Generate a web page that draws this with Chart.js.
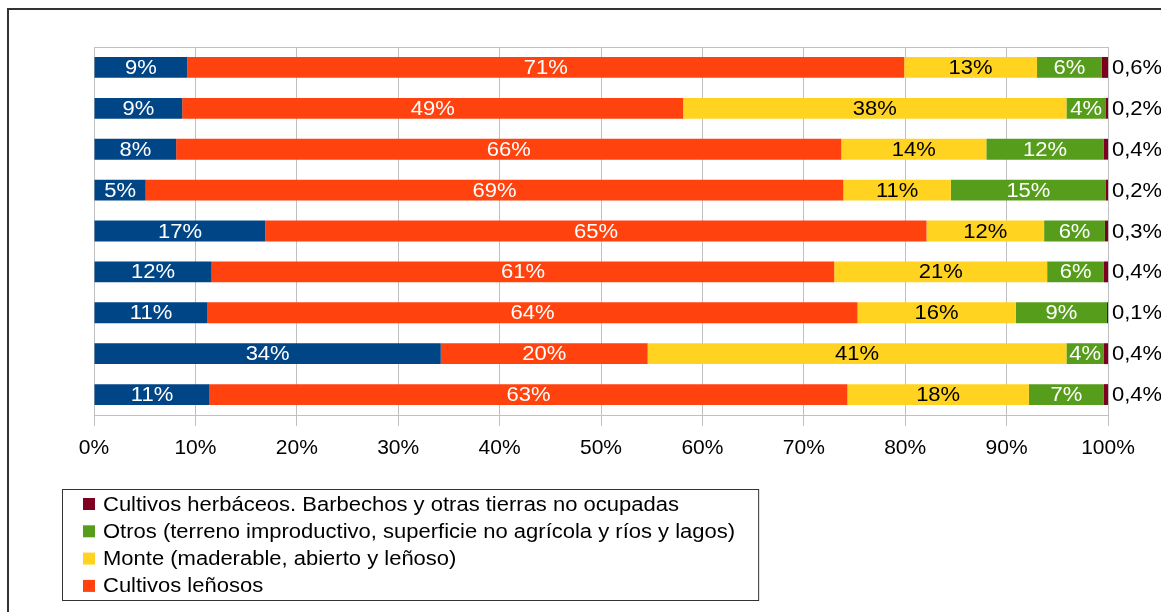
<!DOCTYPE html>
<html>
<style>
body {
    margin: 0;
    background: #fff;
}
#wrap {
    width: 1161px;
    height: 612px;
    position: relative;
}
</style>
  <head>
    <meta charset="utf-8">
    <title>Superficie por usos</title>
  </head>
  <body>
    <div id="wrap"><canvas id="myChart"></canvas></div>

    <script src="https://cdn.jsdelivr.net/npm/chart.js@4/dist/chart.umd.min.js"></script>
    <script type="text/javascript">
      // filas del grafico (sin etiqueta visible en el original)
      const categorias = ['1', '2', '3', '4', '5', '6', '7', '8', '9'];

      // porcentajes de cada uso, fila por fila
      const azul      = [9.2, 8.7, 8.1, 5.1, 16.9, 11.6, 11.2, 34.2, 11.4];
      const lenosos   = [70.7, 49.4, 65.6, 68.8, 65.2, 61.4, 64.1, 20.4, 62.9];
      const monte     = [13.1, 37.8, 14.3, 10.6, 11.6, 21.0, 15.6, 41.3, 17.9];
      const otros     = [6.4, 3.9, 11.6, 15.3, 6.0, 5.6, 9.0, 3.7, 7.4];
      const herbaceos = [0.6, 0.2, 0.4, 0.2, 0.3, 0.4, 0.1, 0.4, 0.4];

      const ticksX = [0, 10, 20, 30, 40, 50, 60, 70, 80, 90, 100];

      const FONT = '"Liberation Sans", Arial, sans-serif';
      const ESTIRA = 1.1; // el texto del original sale algo ensanchado

      function texto(ctx, t, x, y) {
        ctx.save();
        ctx.translate(x, y);
        ctx.scale(ESTIRA, 1);
        ctx.fillText(t, 0, 0);
        ctx.restore();
      }

      // etiquetas de valor dentro / fuera de las barras
      const etiquetas = {
        id: 'etiquetas',
        afterDatasetsDraw(chart) {
          const ctx = chart.ctx;
          ctx.save();
          ctx.font = '20px ' + FONT;
          ctx.textBaseline = 'middle';
          chart.data.datasets.forEach((ds, i) => {
            const meta = chart.getDatasetMeta(i);
            meta.data.forEach((bar, j) => {
              const p = bar.getProps(['x', 'base', 'y'], true);
              const v = ds.data[j];
              if (ds.fuera) {
                ctx.fillStyle = '#000';
                ctx.textAlign = 'left';
                texto(ctx, v.toFixed(1).replace('.', ',') + '%', p.x + 4, p.y + 1);
              } else {
                ctx.fillStyle = ds.colorTexto;
                ctx.textAlign = 'center';
                texto(ctx, Math.round(v) + '%', (p.x + p.base) / 2, p.y + 1);
              }
            });
          });
          ctx.restore();
        }
      };

      // marco exterior, linea superior del area y leyenda con borde
      const marco = {
        id: 'marco',
        beforeDatasetsDraw(chart) {
          const ctx = chart.ctx;
          const a = chart.chartArea;
          ctx.save();
          ctx.strokeStyle = '#c0c0c0';
          ctx.lineWidth = 1;
          ctx.beginPath();
          ctx.moveTo(a.left, a.top + 0.5);
          ctx.lineTo(a.right, a.top + 0.5);
          ctx.stroke();
          ctx.restore();
        },
        afterDraw(chart) {
          const ctx = chart.ctx;
          ctx.save();
          ctx.strokeStyle = '#333';
          ctx.lineWidth = 2;
          ctx.strokeRect(8, 9, 1300, 800);

          const items = chart.data.datasets.slice().reverse().filter(d => !d.sinLeyenda);
          ctx.font = '20px ' + FONT;
          let maxW = 0;
          items.forEach(d => { maxW = Math.max(maxW, ctx.measureText(d.label).width * ESTIRA); });
          const left = 62, top = 489, rowH = 27.3, textX = 103;
          const w = textX - left + maxW + 23;
          ctx.strokeStyle = '#333';
          ctx.lineWidth = 1;
          ctx.strokeRect(left + 0.5, top + 0.5, w, 111);
          ctx.textBaseline = 'middle';
          ctx.textAlign = 'left';
          items.forEach((d, i) => {
            const y = top + 15 + i * rowH;
            ctx.fillStyle = d.backgroundColor;
            ctx.fillRect(83, y - 6, 12, 12);
            ctx.fillStyle = '#000';
            texto(ctx, d.label, textX, y + 1);
          });
          ctx.restore();
        }
      };

      var ctx = document.getElementById('myChart').getContext('2d');
      var chart = new Chart(ctx, {
          type: 'bar',
          data: {
              labels: categorias,
              datasets: [{
                  label: 'Cultivos herbáceos',
                  data: azul,
                  backgroundColor: '#004586',
                  colorTexto: '#fff',
                  sinLeyenda: true
              }, {
                  label: 'Cultivos leñosos',
                  data: lenosos,
                  backgroundColor: '#ff420e',
                  colorTexto: '#fff'
              }, {
                  label: 'Monte (maderable, abierto y leñoso)',
                  data: monte,
                  backgroundColor: '#ffd320',
                  colorTexto: '#000'
              }, {
                  label: 'Otros (terreno improductivo, superficie no agrícola y ríos y lagos)',
                  data: otros,
                  backgroundColor: '#579d1c',
                  colorTexto: '#fff'
              }, {
                  label: 'Cultivos herbáceos. Barbechos y otras tierras no ocupadas',
                  data: herbaceos,
                  backgroundColor: '#7e0021',
                  fuera: true
              }]
          },
          options: {
            indexAxis: 'y',
            responsive: true,
            maintainAspectRatio: false,
            animation: false,
            events: [],
            layout: {
              padding: { left: 94, right: 53, top: 47, bottom: 0 }
            },
            datasets: {
              bar: { categoryPercentage: 1, barPercentage: 0.51, borderWidth: 0 }
            },
            scales: {
              x: {
                stacked: true,
                min: 0,
                max: 100,
                afterBuildTicks: (s) => { s.ticks = ticksX.map(v => ({ value: v })); },
                afterFit: (s) => { s.height = 197; },
                ticks: {
                  color: '#000',
                  padding: 10,
                  font: { family: FONT, size: 21 },
                  callback: (v) => v + '%'
                },
                grid: { color: '#c0c0c0', lineWidth: 1, tickLength: 11 },
                border: { color: '#c0c0c0' }
              },
              y: {
                stacked: true,
                display: false
              }
            },
            plugins: {
              legend: { display: false },
              tooltip: { enabled: false }
            }
          },
          plugins: [marco, etiquetas]
      });
    </script>
  </body>
</html>
